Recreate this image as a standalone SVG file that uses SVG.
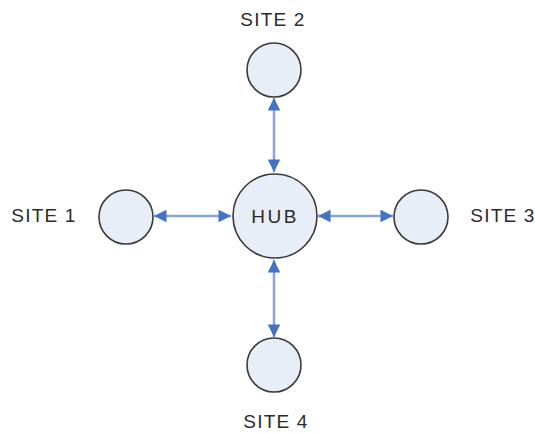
<svg xmlns="http://www.w3.org/2000/svg" width="535" height="433" viewBox="0 0 535 433">
<defs>
<style>
.node{fill:#E8EEF8;stroke:#3A3A3A;stroke-width:1.6}
.lbl{font-family:"Liberation Sans",Arial,sans-serif;font-size:19px;fill:#2B2B2B;letter-spacing:1.2px}
.conn{stroke:#86A6DC;stroke-width:2.5;fill:none;marker-start:url(#ah);marker-end:url(#ah)}
</style>
<marker id="ah" viewBox="0 0 10 10" refX="10" refY="5" markerWidth="5.2" markerHeight="5" orient="auto-start-reverse" markerUnits="strokeWidth">
<path d="M0,0 L10,5 L0,10 z" fill="#4472C4"/>
</marker>
</defs>
<rect width="535" height="433" fill="#ffffff"/>
<g id="connectors">
<line class="conn" x1="274" y1="98" x2="274" y2="172"/>
<line class="conn" x1="154" y1="216" x2="231" y2="216"/>
<line class="conn" x1="318" y1="216" x2="393" y2="216"/>
<line class="conn" x1="274" y1="260" x2="274" y2="337"/>
</g>
<g id="hub">
<circle class="node" cx="275" cy="216" r="42"/>
<text class="lbl" x="275" y="223" text-anchor="middle" style="letter-spacing:2.5px">HUB</text>
</g>
<g id="site1">
<circle class="node" cx="126" cy="217" r="27"/>
<text class="lbl" x="44" y="222" text-anchor="middle">SITE 1</text>
</g>
<g id="site2">
<circle class="node" cx="274" cy="70" r="27"/>
<text class="lbl" x="273" y="26" text-anchor="middle">SITE 2</text>
</g>
<g id="site3">
<circle class="node" cx="421" cy="217" r="27"/>
<text class="lbl" x="503" y="222" text-anchor="middle">SITE 3</text>
</g>
<g id="site4">
<circle class="node" cx="274" cy="365" r="27"/>
<text class="lbl" x="276" y="428" text-anchor="middle">SITE 4</text>
</g>
</svg>
